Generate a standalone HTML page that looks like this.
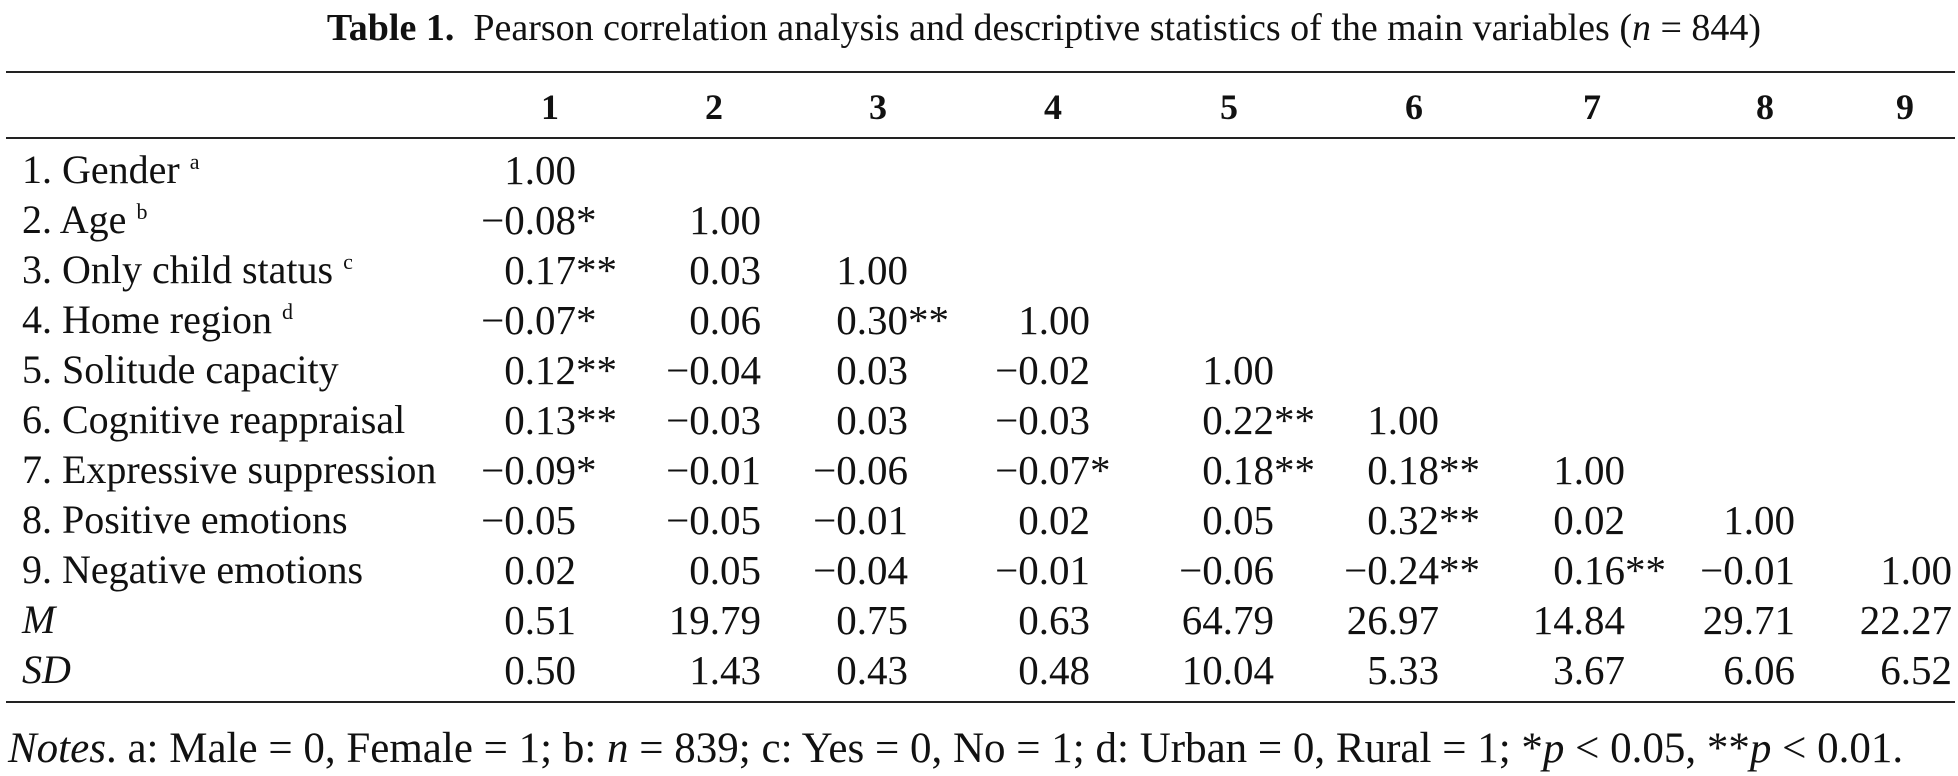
<!DOCTYPE html>
<html><head><meta charset="utf-8"><style>
body{margin:0;background:#fff;}
#p{position:relative;width:1958px;height:776px;overflow:hidden;font-family:"Liberation Serif",serif;font-size:40px;color:#111;}
.r{position:absolute;left:6px;width:1949px;height:2px;background:#222;}
.c{position:absolute;transform:translateX(-100%);line-height:50px;white-space:nowrap;font-size:41px;}
.c i{position:absolute;left:100%;font-style:normal;}
.h{position:absolute;transform:translateX(-50%);line-height:50px;font-weight:bold;font-size:36px;}
.l{position:absolute;left:22px;line-height:50px;white-space:nowrap;}
sup{font-size:22px;vertical-align:14px;line-height:0;}
</style></head><body><div id="p">
<div style="position:absolute;left:65px;width:1958px;top:6px;text-align:center;line-height:44px;font-size:38px;white-space:nowrap;"><b>Table 1.</b>&nbsp; Pearson correlation analysis and descriptive statistics of the main variables (<i>n</i> = 844)</div>
<div class="r" style="top:71px"></div>
<div class="r" style="top:137px"></div>
<div class="r" style="top:701px"></div>
<div class="h" style="left:550px;top:82px">1</div>
<div class="h" style="left:714px;top:82px">2</div>
<div class="h" style="left:878px;top:82px">3</div>
<div class="h" style="left:1053px;top:82px">4</div>
<div class="h" style="left:1229px;top:82px">5</div>
<div class="h" style="left:1414px;top:82px">6</div>
<div class="h" style="left:1592px;top:82px">7</div>
<div class="h" style="left:1765px;top:82px">8</div>
<div class="h" style="left:1905px;top:82px">9</div>

<div class="l" style="top:145px">1. Gender <sup>a</sup></div>
<div class="l" style="top:195px">2. Age <sup>b</sup></div>
<div class="l" style="top:245px">3. Only child status <sup>c</sup></div>
<div class="l" style="top:295px">4. Home region <sup>d</sup></div>
<div class="l" style="top:345px">5. Solitude capacity</div>
<div class="l" style="top:395px">6. Cognitive reappraisal</div>
<div class="l" style="top:445px">7. Expressive suppression</div>
<div class="l" style="top:495px">8. Positive emotions</div>
<div class="l" style="top:545px">9. Negative emotions</div>
<div class="l" style="top:595px"><i>M</i></div>
<div class="l" style="top:645px"><i>SD</i></div>

<div class="c" style="left:576px;top:145px">1.00</div>
<div class="c" style="left:576px;top:195px">−0.08<i>*</i></div>
<div class="c" style="left:761px;top:195px">1.00</div>
<div class="c" style="left:576px;top:245px">0.17<i>**</i></div>
<div class="c" style="left:761px;top:245px">0.03</div>
<div class="c" style="left:908px;top:245px">1.00</div>
<div class="c" style="left:576px;top:295px">−0.07<i>*</i></div>
<div class="c" style="left:761px;top:295px">0.06</div>
<div class="c" style="left:908px;top:295px">0.30<i>**</i></div>
<div class="c" style="left:1090px;top:295px">1.00</div>
<div class="c" style="left:576px;top:345px">0.12<i>**</i></div>
<div class="c" style="left:761px;top:345px">−0.04</div>
<div class="c" style="left:908px;top:345px">0.03</div>
<div class="c" style="left:1090px;top:345px">−0.02</div>
<div class="c" style="left:1274px;top:345px">1.00</div>
<div class="c" style="left:576px;top:395px">0.13<i>**</i></div>
<div class="c" style="left:761px;top:395px">−0.03</div>
<div class="c" style="left:908px;top:395px">0.03</div>
<div class="c" style="left:1090px;top:395px">−0.03</div>
<div class="c" style="left:1274px;top:395px">0.22<i>**</i></div>
<div class="c" style="left:1439px;top:395px">1.00</div>
<div class="c" style="left:576px;top:445px">−0.09<i>*</i></div>
<div class="c" style="left:761px;top:445px">−0.01</div>
<div class="c" style="left:908px;top:445px">−0.06</div>
<div class="c" style="left:1090px;top:445px">−0.07<i>*</i></div>
<div class="c" style="left:1274px;top:445px">0.18<i>**</i></div>
<div class="c" style="left:1439px;top:445px">0.18<i>**</i></div>
<div class="c" style="left:1625px;top:445px">1.00</div>
<div class="c" style="left:576px;top:495px">−0.05</div>
<div class="c" style="left:761px;top:495px">−0.05</div>
<div class="c" style="left:908px;top:495px">−0.01</div>
<div class="c" style="left:1090px;top:495px">0.02</div>
<div class="c" style="left:1274px;top:495px">0.05</div>
<div class="c" style="left:1439px;top:495px">0.32<i>**</i></div>
<div class="c" style="left:1625px;top:495px">0.02</div>
<div class="c" style="left:1795px;top:495px">1.00</div>
<div class="c" style="left:576px;top:545px">0.02</div>
<div class="c" style="left:761px;top:545px">0.05</div>
<div class="c" style="left:908px;top:545px">−0.04</div>
<div class="c" style="left:1090px;top:545px">−0.01</div>
<div class="c" style="left:1274px;top:545px">−0.06</div>
<div class="c" style="left:1439px;top:545px">−0.24<i>**</i></div>
<div class="c" style="left:1625px;top:545px">0.16<i>**</i></div>
<div class="c" style="left:1795px;top:545px">−0.01</div>
<div class="c" style="left:1952px;top:545px">1.00</div>
<div class="c" style="left:576px;top:595px">0.51</div>
<div class="c" style="left:761px;top:595px">19.79</div>
<div class="c" style="left:908px;top:595px">0.75</div>
<div class="c" style="left:1090px;top:595px">0.63</div>
<div class="c" style="left:1274px;top:595px">64.79</div>
<div class="c" style="left:1439px;top:595px">26.97</div>
<div class="c" style="left:1625px;top:595px">14.84</div>
<div class="c" style="left:1795px;top:595px">29.71</div>
<div class="c" style="left:1952px;top:595px">22.27</div>
<div class="c" style="left:576px;top:645px">0.50</div>
<div class="c" style="left:761px;top:645px">1.43</div>
<div class="c" style="left:908px;top:645px">0.43</div>
<div class="c" style="left:1090px;top:645px">0.48</div>
<div class="c" style="left:1274px;top:645px">10.04</div>
<div class="c" style="left:1439px;top:645px">5.33</div>
<div class="c" style="left:1625px;top:645px">3.67</div>
<div class="c" style="left:1795px;top:645px">6.06</div>
<div class="c" style="left:1952px;top:645px">6.52</div>

<div class="l" style="top:724px;left:8px;font-size:43px;"><i>Notes</i>. a: Male = 0, Female = 1; b: <i>n</i> = 839; c: Yes = 0, No = 1; d: Urban = 0, Rural = 1; *<i>p</i> &lt; 0.05, **<i>p</i> &lt; 0.01.</div>
</div></body></html>
